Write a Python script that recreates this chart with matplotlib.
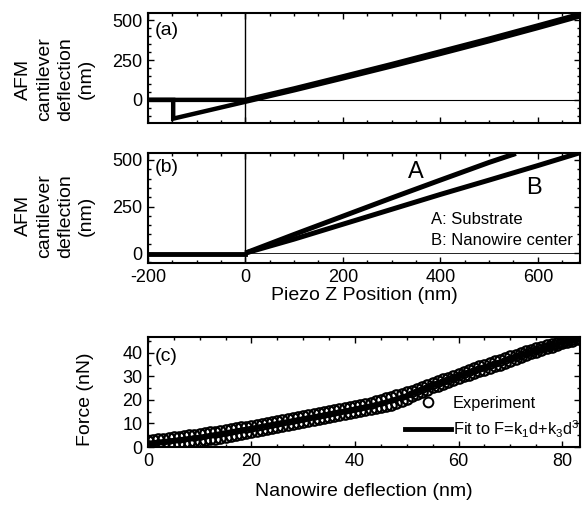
import matplotlib
matplotlib.use("Agg")
import matplotlib.pyplot as plt
from matplotlib.ticker import MultipleLocator

plt.rcParams['font.family'] = ['Liberation Sans', 'DejaVu Sans']
plt.rcParams['mathtext.fontset'] = 'custom'
plt.rcParams['mathtext.rm'] = 'Liberation Sans'
plt.rcParams['mathtext.it'] = 'Liberation Sans'
plt.rcParams['axes.unicode_minus'] = False

# (a) approach / retract on substrate, piezo z (nm) vs deflection (nm)
a_app_z = [-200, 0, 100, 200, 300, 400, 500, 600, 700]
a_app_d = [0, 0, 72, 148, 225, 305, 385, 468, 552]
a_ret_z = [-200, -148, -148, 0, 100, 200, 300, 400, 500, 600, 700]
a_ret_d = [0, 0, -118, -12, 60, 135, 211, 289, 369, 452, 537]

# (b) A: substrate, B: nanowire center
b_flat_z = [-200, 0]
b_flat_d = [-3, -3]
b_a_z = [0, 100, 200, 300, 400, 500, 555]
b_a_d = [0, 100, 198, 296, 392, 487, 535]
b_b_z = [0, 100, 200, 300, 400, 500, 600, 685]
b_b_d = [0, 75, 155, 235, 315, 392, 470, 538]

# (c) force vs nanowire deflection
defl = [0, 1, 2, 3, 4, 5, 6, 7, 8, 9, 10, 11, 12, 13, 14, 15, 16, 17, 18, 19,
        20, 21, 22, 23, 24, 25, 26, 27, 28, 29, 30, 31, 32, 33, 34, 35, 36, 37, 38, 39,
        40, 41, 42, 43, 44, 45, 46, 47, 48, 49, 50, 51, 52, 53, 54, 55, 56, 57, 58, 59,
        60, 61, 62, 63, 64, 65, 66, 67, 68, 69, 70, 71, 72, 73, 74, 75, 76, 77, 78, 79,
        80, 81, 82, 83, 84]
force_up = [2.6, 2.9, 3.3, 3.5, 3.9, 4.2, 4.4, 4.8, 5.1, 5.3,
            5.6, 6.0, 6.3, 6.5, 6.9, 7.2, 7.6, 7.9, 8.3, 8.6,
            9.0, 9.4, 9.8, 10.2, 10.6, 11.0, 11.5, 11.9, 12.4, 12.8,
            13.2, 13.6, 14.0, 14.3, 14.7, 15.1, 15.6, 16.0, 16.5, 16.9,
            17.4, 17.9, 18.4, 18.9, 19.5, 20.1, 20.7, 21.3, 21.9, 22.5,
            23.2, 23.9, 24.7, 25.5, 26.3, 27.1, 27.9, 28.7, 29.5, 30.3,
            31.0, 31.8, 32.6, 33.4, 34.2, 35.0, 35.7, 36.4, 37.1, 37.8,
            38.5, 39.2, 39.9, 40.6, 41.3, 42.0, 42.6, 43.2, 43.8, 44.3,
            44.8, 45.3, 45.8, 46.2, 46.6]
force_lo = [0.4, 0.6, 0.8, 1.0, 1.2, 1.4, 1.6, 1.8, 2.1, 2.4,
            2.7, 3.0, 3.3, 3.6, 3.9, 4.3, 4.7, 5.1, 5.5, 5.9,
            6.3, 6.7, 7.1, 7.5, 7.9, 8.4, 8.8, 9.2, 9.7, 10.1,
            10.5, 11.0, 11.4, 11.9, 12.3, 12.8, 13.2, 13.7, 14.1, 14.6,
            15.0, 15.4, 15.8, 16.2, 16.6, 17.0, 17.4, 17.8, 18.5, 19.5,
            20.5, 21.5, 22.5, 23.5, 24.4, 25.3, 26.1, 26.9, 27.7, 28.5,
            29.3, 30.0, 30.7, 31.4, 32.1, 32.8, 33.5, 34.2, 35.0, 35.8,
            36.6, 37.4, 38.2, 39.0, 39.8, 40.5, 41.2, 41.9, 42.6, 43.3,
            44.0, 44.6, 45.2, 45.8, 46.3]
fit_d = [0, 10, 20, 30, 40, 45, 50, 55, 60, 70, 80, 84]
fit_f = [1.5, 4.2, 8.0, 12.0, 16.0, 18.5, 21.8, 26.0, 30.0, 37.5, 44.2, 46.4]

TICK = 13
LAB = 14

fig = plt.figure(figsize=(5.82, 5.08), dpi=100)
ax_a = fig.add_axes([0.254, 0.758, 0.743, 0.216])
ax_b = fig.add_axes([0.254, 0.482, 0.743, 0.217])
ax_c = fig.add_axes([0.254, 0.120, 0.743, 0.217])


def style(ax):
    ax.tick_params(which='both', direction='in', top=True, right=True,
                   labelsize=TICK, pad=4, width=1)
    ax.tick_params(which='major', length=4)
    ax.tick_params(which='minor', length=2)
    for s in ax.spines.values():
        s.set_linewidth(1.5)


# panel (a)
ax_a.plot(a_app_z, a_app_d, color='black', lw=3.2, solid_joinstyle='miter')
ax_a.plot(a_ret_z, a_ret_d, color='black', lw=3.2, solid_joinstyle='miter')
ax_a.axvline(0, color='black', lw=1)
ax_a.axhline(0, color='black', lw=0.8)
ax_a.set_xlim(-200, 687)
ax_a.set_ylim(-145, 545)
ax_a.set_yticks([0, 250, 500])
ax_a.yaxis.set_minor_locator(MultipleLocator(50))
ax_a.set_xticks([-200, 0, 200, 400, 600])
ax_a.xaxis.set_minor_locator(MultipleLocator(50))
ax_a.set_xticklabels([])
ax_a.text(0.016, 0.845, '(a)', transform=ax_a.transAxes, fontsize=14,
          va='center', ha='left')
ax_a.set_ylabel('AFM\ncantilever\ndeflection\n(nm)', fontsize=LAB, linespacing=1.3)
ax_a.yaxis.set_label_coords(-0.123, 0.40)
style(ax_a)

# panel (b)
ax_b.plot(b_flat_z, b_flat_d, color='black', lw=3.5)
ax_b.plot(b_a_z, b_a_d, color='black', lw=3.6, solid_capstyle='butt')
ax_b.plot(b_b_z, b_b_d, color='black', lw=3.6, solid_capstyle='butt')
ax_b.axvline(0, color='black', lw=1)
ax_b.axhline(0, color='black', lw=0.6)
ax_b.set_xlim(-200, 687)
ax_b.set_ylim(-54, 538)
ax_b.set_yticks([0, 250, 500])
ax_b.yaxis.set_minor_locator(MultipleLocator(50))
ax_b.set_xticks([-200, 0, 200, 400, 600])
ax_b.xaxis.set_minor_locator(MultipleLocator(50))
ax_b.text(0.016, 0.864, '(b)', transform=ax_b.transAxes, fontsize=14,
          va='center', ha='left')
ax_b.text(349, 436, 'A', fontsize=17, ha='center', va='center')
ax_b.text(593, 350, 'B', fontsize=17, ha='center', va='center')
ax_b.text(380, 178, 'A: Substrate', fontsize=12, ha='left', va='center')
ax_b.text(380, 70, 'B: Nanowire center', fontsize=12, ha='left', va='center')
ax_b.set_ylabel('AFM\ncantilever\ndeflection\n(nm)', fontsize=LAB, linespacing=1.3)
ax_b.yaxis.set_label_coords(-0.123, 0.43)
ax_b.set_xlabel('Piezo Z Position (nm)', fontsize=LAB)
ax_b.xaxis.set_label_coords(0.5, -0.22)
style(ax_b)

# panel (c)
ax_c.plot(fit_d, fit_f, color='black', lw=3.5, zorder=1,
          label='Fit to F=k$_\\mathregular{1}$d+k$_\\mathregular{3}$d$^\\mathregular{3}$')
ax_c.plot(defl, force_up, 'o', mfc='none', mec='black', ms=7.5, mew=1.6, zorder=2,
          label='Experiment')
ax_c.plot(defl, force_lo, 'o', mfc='none', mec='black', ms=7.5, mew=1.6, zorder=2)
ax_c.set_xlim(0, 83.5)
ax_c.set_ylim(0, 46.8)
ax_c.set_xticks([0, 20, 40, 60, 80])
ax_c.xaxis.set_minor_locator(MultipleLocator(5))
ax_c.set_yticks([0, 10, 20, 30, 40])
ax_c.yaxis.set_minor_locator(MultipleLocator(5))
ax_c.text(0.016, 0.82, '(c)', transform=ax_c.transAxes, fontsize=14,
          va='center', ha='left')
h, l = ax_c.get_legend_handles_labels()
leg = ax_c.legend([h[1], h[0]], [l[1], l[0]], loc='upper left',
                  bbox_to_anchor=(0.595, 0.465), frameon=False, fontsize=11.8,
                  borderpad=0, borderaxespad=0, handlelength=2.8,
                  handletextpad=0.1, labelspacing=0.45)
leg.legend_handles[0].set_markersize(7)
leg.legend_handles[0].set_markeredgewidth(1.4)
ax_c.set_ylabel('Force (nN)', fontsize=LAB)
ax_c.yaxis.set_label_coords(-0.125, 0.43)
ax_c.set_xlabel('Nanowire deflection (nm)', fontsize=LAB)
ax_c.xaxis.set_label_coords(0.5, -0.33)
style(ax_c)

fig.savefig('out.png', dpi=100)
